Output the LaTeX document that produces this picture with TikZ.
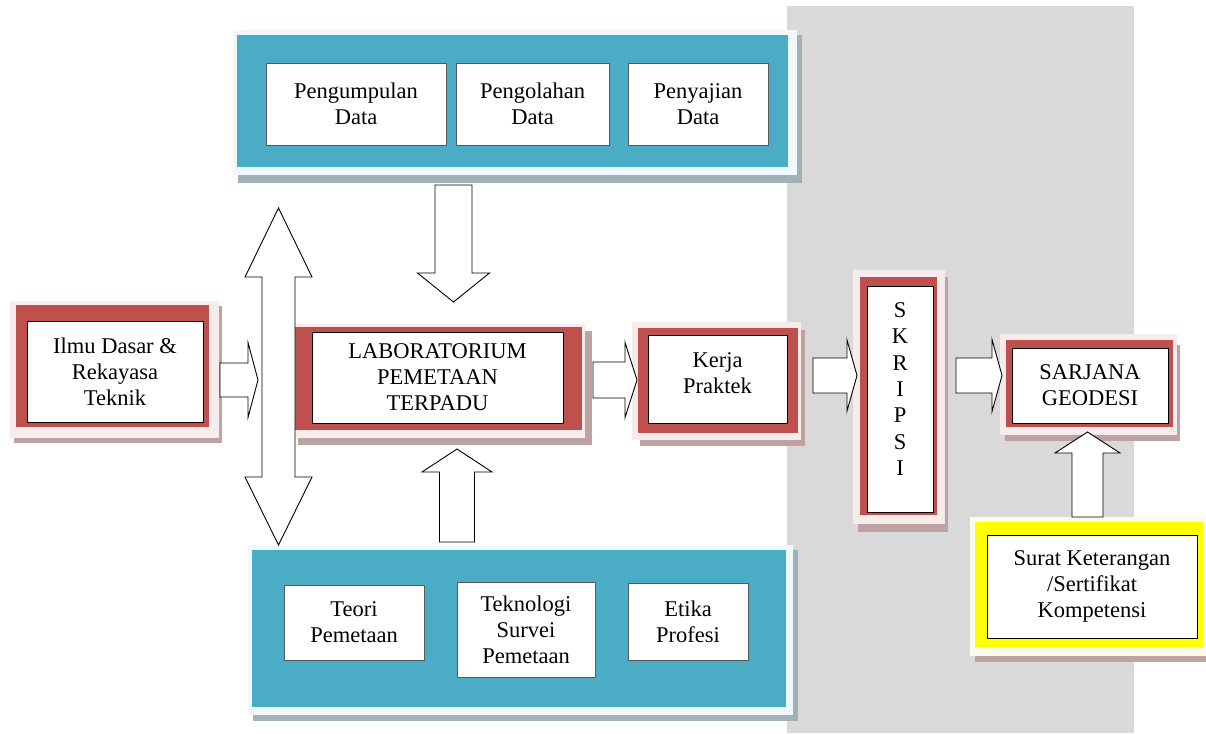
\documentclass[tikz,border=0pt]{standalone}
\usepackage{fontspec}
\setmainfont{Liberation Serif}
\usetikzlibrary{calc}
\definecolor{bggray}{HTML}{D9D9D9}
\definecolor{boxred}{HTML}{C0504D}
\definecolor{framered}{HTML}{F7ECEC}
\definecolor{shadowred}{HTML}{BCA2A3}
\definecolor{panelteal}{HTML}{4BACC6}
\definecolor{frameteal}{HTML}{EFF8FB}
\definecolor{shadowteal}{HTML}{A3B1B7}
\definecolor{certyellow}{HTML}{FFFF00}
\definecolor{frameyellow}{HTML}{FBFBEC}
\tikzset{
  txtfont/.style={font=\fontsize{22.5}{26}\selectfont},
  inbox/.style={draw=black, line width=0.9pt, fill=white, inner sep=0pt, align=center, txtfont},
  pbox/.style={draw=black!65, line width=0.8pt, fill=white, inner sep=0pt, align=center, txtfont},
  plaintext/.style={inner sep=0pt, align=center, font=\fontsize{22.5}{26.3}\selectfont},
  barrow/.style={draw=black, line width=0.9pt, fill=white, line join=miter},
  shadowR/.style={fill=shadowred},
  frameR/.style={fill=framered},
  redband/.style={fill=boxred},
  shadowT/.style={fill=shadowteal},
  frameT/.style={fill=frameteal},
  tealband/.style={fill=panelteal},
}
% horizontal right-pointing block arrow: x tail, x tip, y centre, shaft half, head half, head length
\newcommand\BlkR[6]{\draw[barrow] (#1,{#3-#4}) -- ({#2-#6},{#3-#4}) -- ({#2-#6},{#3-#5}) -- (#2,#3) -- ({#2-#6},{#3+#5}) -- ({#2-#6},{#3+#4}) -- (#1,{#3+#4}) -- cycle;}
% vertical up-pointing block arrow: x centre, y tail, y tip, shaft half, head half, head length
\newcommand\BlkU[6]{\draw[barrow] ({#1-#4},#2) -- ({#1-#4},{#3+#6}) -- ({#1-#5},{#3+#6}) -- (#1,#3) -- ({#1+#5},{#3+#6}) -- ({#1+#4},{#3+#6}) -- ({#1+#4},#2) -- cycle;}
% vertical down-pointing block arrow
\newcommand\BlkD[6]{\draw[barrow] ({#1-#4},#2) -- ({#1-#4},{#3-#6}) -- ({#1-#5},{#3-#6}) -- (#1,#3) -- ({#1+#5},{#3-#6}) -- ({#1+#4},{#3-#6}) -- ({#1+#4},#2) -- cycle;}
\begin{document}
\begin{tikzpicture}[x=1pt,y=-1pt]
\useasboundingbox (0,0) rectangle (1206,733);
\fill[white] (0,0) rectangle (1206,733);
% grey column
\fill[bggray] (787,6) rectangle (1134,733);

% ---------- top panel ----------
\fill[shadowT] (238,35) rectangle (802,183);
\fill[frameT] (233,30) rectangle (797,175);
\fill[tealband] (237,35) rectangle (788,167);
\node[pbox, minimum width=180pt, minimum height=82pt] (kumpul) at (356,104) {Pengumpulan\\Data};
\node[pbox, minimum width=153pt, minimum height=82pt] (olah) at (532.5,104) {Pengolahan\\Data};
\node[pbox, minimum width=140pt, minimum height=82pt] (saji) at (698,104) {Penyajian\\Data};

% ---------- bottom panel ----------
\fill[shadowT] (253,550) rectangle (798,721);
\fill[frameT] (248,545) rectangle (793,715);
\fill[tealband] (252,550) rectangle (786,707);
\node[pbox, minimum width=140pt, minimum height=75pt] (teori) at (354,622.5) {Teori\\Pemetaan};
\node[pbox, minimum width=138pt, minimum height=95pt] (tekno) at (526,629.5) {Teknologi\\Survei\\Pemetaan};
\node[pbox, minimum width=120pt, minimum height=77pt] (etika) at (688,621.5) {Etika\\Profesi};

% ---------- Ilmu Dasar ----------
\fill[shadowR] (14,306) rectangle (222,443);
\fill[frameR] (10,301) rectangle (219,438);
\fill[redband] (16,305) rectangle (209,427);
\node[inbox, minimum width=176pt, minimum height=101pt] (ilmu) at (115,371.5) {Ilmu Dasar \&\\Rekayasa\\Teknik};

% ---------- Laboratorium ----------
\fill[shadowR] (298,331) rectangle (592,445);
\fill[frameR] (293,324) rectangle (585,438);
\fill[redband] (295,327) rectangle (582,430);
\node[inbox, minimum width=251pt, minimum height=91pt] (lab) at (437.5,377.5) {LABORATORIUM\\PEMETAAN\\TERPADU};

% ---------- Kerja Praktek ----------
\fill[shadowR] (640,330) rectangle (805,446);
\fill[frameR] (632,322) rectangle (801,440);
\fill[redband] (638,328) rectangle (798,433);
\node[inbox, minimum width=139pt, minimum height=88pt] (kerja) at (717.5,379) {};
\node[plaintext] (kerjatext) at (717.5,373) {Kerja\\Praktek};

% ---------- SKRIPSI ----------
\fill[shadowR] (858,277) rectangle (948,532);
\fill[frameR] (853,270) rectangle (945,524);
\fill[redband] (860,277) rectangle (937,515);
\node[inbox, minimum width=66pt, minimum height=226pt] (skripsi) at (900,399) {};
\node[plaintext] (skripsitext) at (900,389) {S\\K\\R\\I\\P\\S\\I};

% ---------- SARJANA GEODESI ----------
\fill[shadowR] (1005,345) rectangle (1180,441);
\fill[frameR] (1000,334) rectangle (1177,435);
\fill[redband] (1006,340) rectangle (1173,427);
\node[inbox, minimum width=156pt, minimum height=75pt] (sarjana) at (1090,385.5) {SARJANA\\GEODESI};

% ---------- Sertifikat ----------
\fill[shadowR] (975,523) rectangle (1206,662);
\fill[fill=frameyellow] (970,517) rectangle (1206,656);
\fill[certyellow] (975,522) rectangle (1203,647);
\node[inbox, minimum width=210pt, minimum height=103pt] (sertifikat) at (1092,586.5) {Surat Keterangan\\/Sertifikat\\Kompetensi};

% ---------- block arrows ----------
\BlkR{220}{258}{380}{17}{37.5}{10}
\BlkR{593}{637}{380}{18}{37.5}{12}
\BlkR{813}{857}{375.5}{17.5}{35.5}{10}
\BlkR{956}{1002}{375.5}{17.5}{36}{10}
\BlkU{1087.5}{517}{432}{15.5}{32.5}{21}
\BlkD{453.5}{185}{302}{18.5}{36}{29}
\BlkU{457}{542}{449}{17.5}{35}{23}
% double vertical arrow
\draw[barrow] (262,277) -- (245,277) -- (278.5,208) -- (312,277) -- (295,277)
  -- (295,477) -- (312,477) -- (278.5,545) -- (245,477) -- (262,477) -- cycle;
\end{tikzpicture}
\end{document}
